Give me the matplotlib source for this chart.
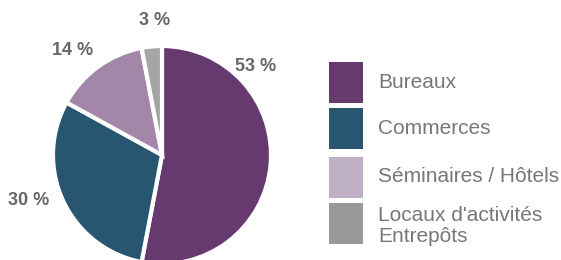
import matplotlib
matplotlib.use("Agg")
import matplotlib.pyplot as plt
from matplotlib.patches import Rectangle

categories = ["Bureaux", "Commerces", "Séminaires / Hôtels", "Locaux d'activités\nEntrepôts"]
values = [53, 30, 14, 3]
pct_labels = ["53 %", "30 %", "14 %", "3 %"]
pie_colors = ["#663a6e", "#285570", "#a287a8", "#a5a5a5"]
legend_colors = ["#663a6e", "#285570", "#bfb0c7", "#999999"]

W, H = 561, 260
fig = plt.figure(figsize=(W / 100, H / 100), dpi=100)
fig.patch.set_facecolor("white")

cx, cy, r = 162, 155, 109
ax = fig.add_axes([(cx - r) / W, (H - cy - r) / H, 2 * r / W, 2 * r / H])
ax.pie(values, colors=pie_colors, startangle=90, counterclock=False, radius=1,
       wedgeprops=dict(edgecolor="white", linewidth=3))
ax.set_xlim(-1, 1)
ax.set_ylim(-1, 1)
ax.set_aspect("equal")
ax.axis("off")

label_pos = [(0.86, 0.81), (-1.22, -0.42), (-0.82, 0.96), (-0.07, 1.23)]
for (x, y), t in zip(label_pos, pct_labels):
    ax.text(x, y, t, ha="center", va="center", fontsize=13, fontweight="bold",
            color="#666666", family="Liberation Sans", clip_on=False)

lax = fig.add_axes([0, 0, 1, 1])
lax.set_xlim(0, W)
lax.set_ylim(H, 0)
lax.axis("off")
box_tops = [62, 108, 157, 203]
text_y = [82, 129, 177, 226]
for top, ty, col, cat in zip(box_tops, text_y, legend_colors, categories):
    lax.add_patch(Rectangle((329, top), 34, 41, facecolor=col, edgecolor="none"))
    lax.text(378, ty, cat, ha="left", va="center", fontsize=15, color="#777777",
             family="Liberation Sans", linespacing=1.15)

fig.savefig("out.png", dpi=100)
